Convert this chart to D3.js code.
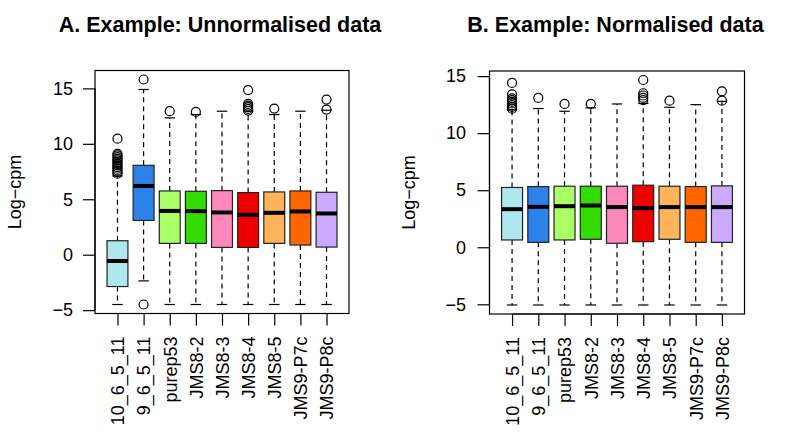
<!DOCTYPE html>
<html>
<head>
<meta charset="utf-8">
<script src="https://cdn.jsdelivr.net/npm/d3@7"></script>
<style>
  html, body { margin: 0; padding: 0; background: #fff; }
  svg { display: block; }
  text { font-family: "Liberation Sans", Arial, Helvetica, sans-serif; fill: #000; }
</style>
</head>
<body>
<svg id="chart" width="788" height="442"></svg>
<script>
// ---------------- data ----------------
const samples = ["10_6_5_11", "9_6_5_11", "purep53", "JMS8-2", "JMS8-3", "JMS8-4", "JMS8-5", "JMS9-P7c", "JMS9-P8c"];
const boxColors = ["#AEE8EE", "#2B82E8", "#AAFF66", "#33DD00", "#FF88BB", "#EE0000", "#FFB35A", "#FF6600", "#CCAAFF"];
const yTicks = [-5, 0, 5, 10, 15];

// Panel A: unnormalised  [lower whisker, Q1, median, Q3, upper whisker]
const rawLow    = [-4.49, -2.36, -4.49, -4.49, -4.49, -4.49, -4.49, -4.49, -4.49];
const rawQ1     = [-2.87, 3.09, 1.02, 1.02, 0.66, 0.66, 1.02, 0.87, 0.69];
const rawMedian = [-0.57, 6.20, 3.95, 3.93, 3.81, 3.60, 3.78, 3.90, 3.72];
const rawQ3     = [1.26, 8.06, 5.75, 5.72, 5.78, 5.60, 5.66, 5.75, 5.63];
const rawHigh   = [7.10, 14.90, 12.34, 12.64, 12.94, 12.94, 12.64, 12.94, 13.03];
const rawOutliers = [
  [7.30, 7.45, 7.60, 7.75, 7.90, 8.05, 8.20, 8.35, 8.50, 8.65, 8.80, 8.95, 9.10, 10.46],
  [15.80, -4.49],
  [12.94],
  [12.88],
  [],
  [13.00, 13.15, 13.30, 13.45, 13.60, 14.85],
  [13.18],
  [],
  [13.09, 13.99]
];

// Panel B: normalised
const normLow    = [-5.06, -5.06, -5.06, -5.06, -5.06, -5.06, -5.06, -5.06, -5.06];
const normQ1     = [0.64, 0.43, 0.64, 0.70, 0.35, 0.49, 0.70, 0.43, 0.43];
const normMedian = [3.34, 3.54, 3.60, 3.66, 3.52, 3.43, 3.52, 3.52, 3.52];
const normQ3     = [5.24, 5.32, 5.35, 5.35, 5.35, 5.44, 5.35, 5.32, 5.38];
const normHigh   = [12.04, 12.16, 11.92, 12.22, 12.56, 12.60, 12.27, 12.50, 12.79];
const normOutliers = [
  [12.15, 12.3, 12.45, 12.6, 12.75, 12.9, 13.05, 13.4, 14.40],
  [13.09],
  [12.56],
  [12.56],
  [],
  [12.9, 13.1, 13.3, 13.5, 14.66],
  [12.85],
  [],
  [12.85, 13.67]
];

const titleA = "A. Example: Unnormalised data";
const titleB = "B. Example: Normalised data";
const yLabel = "Log\u2212cpm";

// ---------------- drawing ----------------
const svg = d3.select("#chart");

function panel(opts) {
  const { left, right, top, bottom, low, q1, med, q3, high, outliers, title, titleX, tickLabelX, yLabelX } = opts;
  const g = svg.append("g");
  const n = samples.length;

  // R-like 4% range extension
  let dmin = Infinity, dmax = -Infinity;
  for (let i = 0; i < n; i++) {
    const vals = [low[i], high[i], ...outliers[i]];
    dmin = Math.min(dmin, ...vals);
    dmax = Math.max(dmax, ...vals);
  }
  const ext = (dmax - dmin) * 0.04;
  const y = d3.scaleLinear().domain([dmin - ext, dmax + ext]).range([bottom, top]);
  const xext = (n) * 0.04;
  const x = d3.scaleLinear().domain([0.5 - xext, n + 0.5 + xext]).range([left, right]);
  const bw = x(0.8) - x(0);

  // title
  g.append("text").attr("x", titleX).attr("y", 32).attr("text-anchor", "middle")
    .style("font-size", "21.5px").style("font-weight", "bold").text(title);

  // boxes
  for (let i = 0; i < n; i++) {
    const cx = x(i + 1);
    // whiskers dashed
    g.append("line").attr("x1", cx).attr("x2", cx).attr("y1", y(q3[i])).attr("y2", y(high[i]))
      .attr("stroke", "#000").attr("stroke-width", 1.2).attr("stroke-dasharray", "5,4");
    g.append("line").attr("x1", cx).attr("x2", cx).attr("y1", y(q1[i])).attr("y2", y(low[i]))
      .attr("stroke", "#000").attr("stroke-width", 1.2).attr("stroke-dasharray", "5,4");
    // caps
    [high[i], low[i]].forEach(v => {
      g.append("line").attr("x1", cx - bw / 4).attr("x2", cx + bw / 4).attr("y1", y(v)).attr("y2", y(v))
        .attr("stroke", "#000").attr("stroke-width", 1.2);
    });
    // box
    g.append("rect").attr("x", cx - bw / 2).attr("width", bw)
      .attr("y", y(q3[i])).attr("height", y(q1[i]) - y(q3[i]))
      .attr("fill", boxColors[i]).attr("stroke", "#222").attr("stroke-width", 1.2);
    // median
    g.append("line").attr("x1", cx - bw / 2).attr("x2", cx + bw / 2).attr("y1", y(med[i])).attr("y2", y(med[i]))
      .attr("stroke", "#000").attr("stroke-width", 4);
    // outliers
    outliers[i].forEach(v => {
      g.append("circle").attr("cx", cx).attr("cy", y(v)).attr("r", 4.5)
        .attr("fill", "none").attr("stroke", "#000").attr("stroke-width", 1.2);
    });
  }

  // plot frame
  g.append("rect").attr("x", left).attr("y", top).attr("width", right - left).attr("height", bottom - top)
    .attr("fill", "none").attr("stroke", "#000").attr("stroke-width", 1.2);

  // y axis
  const yAxis = d3.axisLeft(y).tickValues(yTicks).tickSize(12).tickFormat(d => d < 0 ? "\u2212" + Math.abs(d) : d);
  const ya = g.append("g").attr("transform", `translate(${left},0)`).call(yAxis);
  ya.select(".domain").attr("d", `M-0,${y(yTicks[0])}V${y(yTicks[yTicks.length - 1])}`).attr("stroke-width", 1.2);
  ya.selectAll(".tick line").attr("stroke-width", 1.2);
  ya.selectAll(".tick text").attr("x", tickLabelX - left).attr("text-anchor", "end")
    .style("font-size", "18px").style("font-family", "'Liberation Sans', Arial, sans-serif").attr("fill", "#000");

  // x axis
  const xAxis = d3.axisBottom(x).tickValues(d3.range(1, n + 1)).tickSize(12).tickFormat(d => samples[d - 1]);
  const xa = g.append("g").attr("transform", `translate(0,${bottom})`).call(xAxis);
  xa.select(".domain").attr("d", `M${x(1)},0H${x(n)}`).attr("stroke-width", 1.2);
  xa.selectAll(".tick line").attr("stroke-width", 1.2);
  xa.selectAll(".tick text")
    .attr("transform", "rotate(-90)")
    .attr("x", -23).attr("y", 0).attr("dy", "0.35em")
    .attr("text-anchor", "end")
    .style("font-size", "18px").style("font-family", "'Liberation Sans', Arial, sans-serif").attr("fill", "#000");

  // y label
  g.append("text").attr("transform", `translate(${yLabelX},${(top + bottom) / 2}) rotate(-90)`)
    .attr("text-anchor", "middle").style("font-size", "18px").text(yLabel);
}

panel({ left: 95, right: 349, top: 70.5, bottom: 313.5,
  low: rawLow, q1: rawQ1, med: rawMedian, q3: rawQ3, high: rawHigh, outliers: rawOutliers,
  title: titleA, titleX: 220, tickLabelX: 73, yLabelX: 21 });

panel({ left: 489.5, right: 744.5, top: 71, bottom: 314,
  low: normLow, q1: normQ1, med: normMedian, q3: normQ3, high: normHigh, outliers: normOutliers,
  title: titleB, titleX: 615.5, tickLabelX: 466, yLabelX: 415 });
</script>
</body>
</html>
